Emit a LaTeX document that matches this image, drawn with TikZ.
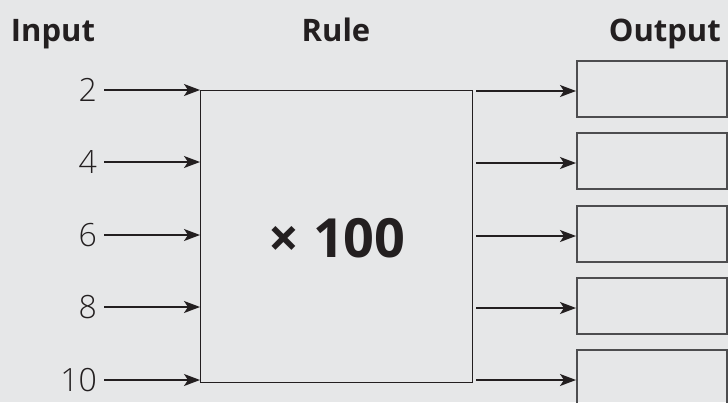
\documentclass[tikz,border=0pt]{standalone}
\usepackage{fontspec}
\setmainfont{Open Sans}
\IfFontExistsTF{Open Sans Light}{\newfontfamily\lightfont{Open Sans Light}}{\newfontfamily\lightfont{Open Sans}}
\usetikzlibrary{arrows.meta}
\definecolor{bg}{HTML}{E6E7E8}
\definecolor{ink}{HTML}{231F20}
\definecolor{boxline}{HTML}{4D4D4F}
\begin{document}
\begin{tikzpicture}[x=1pt,y=-1pt,
  head/.style={font=\fontsize{31}{37}\selectfont\bfseries, text=ink, inner sep=0pt},
  num/.style={font=\fontsize{32}{38}\selectfont\lightfont, text=ink, inner sep=0pt, anchor=east},
  conn/.style={draw=ink, line width=1.3pt, -{Stealth[length=16pt,width=12pt,inset=4pt]}},
  outbox/.style={draw=boxline, line width=1.6pt, minimum width=150pt, minimum height=56pt, inner sep=0pt, anchor=north west}]
\fill[bg] (0,0) rectangle (728,402);
\useasboundingbox (0,0) rectangle (728,402);
\node[head, anchor=base] (hin) at (53,41) {Input};
\node[head, anchor=base] (hrule) at (336,41) {Rule};
\node[head, anchor=base east] (hout) at (721,41) {Output};
\node[draw=ink, line width=1.2pt, minimum width=272pt, minimum height=292pt, inner sep=0pt, anchor=north west] (rule) at (200,90) {};
\node[font=\fontsize{54}{60}\selectfont\bfseries, text=ink, inner sep=0pt] (op) at (337,238) {× 100};
\foreach \v/\y [count=\i] in {2/90,4/162,6/235,8/307,10/380}{
  \node[num] (n\i) at (97,\y) {\v};
  \coordinate (ri\i) at (200,\y);
  \draw[conn] (n\i.east) ++(7,0) coordinate (s\i) -- (ri\i);
}
\foreach \t/\y [count=\i] in {60/91,132/163,205/236,277/308,349/380}{
  \node[outbox] (o\i) at (576,\t) {};
  \coordinate (ro\i) at (476,\y);
  \coordinate (oe\i) at (576,\y);
  \draw[conn] (ro\i) -- (oe\i);
}
\end{tikzpicture}
\end{document}
